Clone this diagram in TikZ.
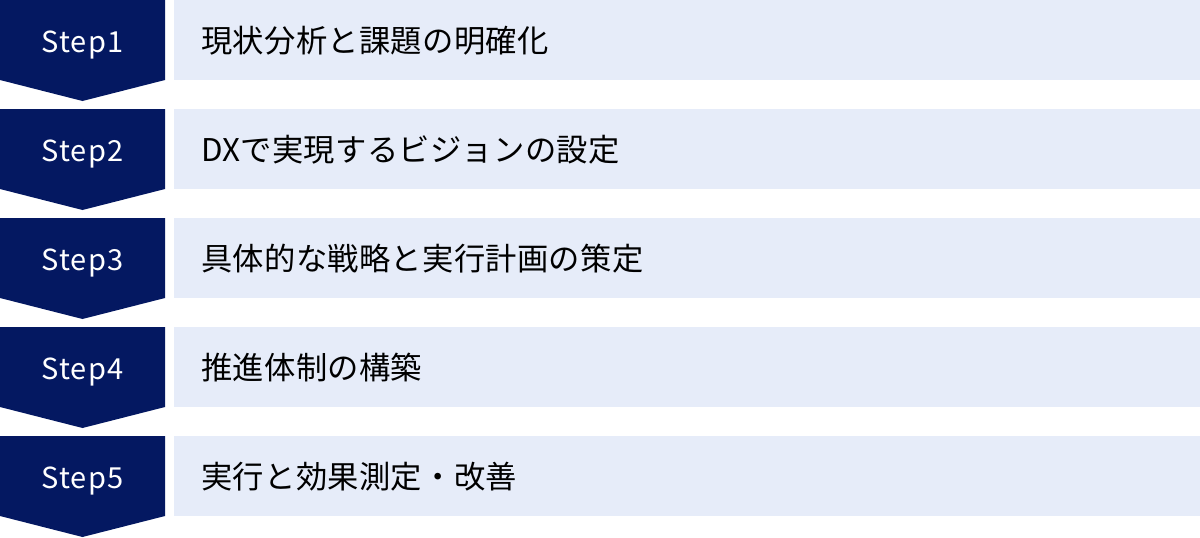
\documentclass[tikz,border=0pt]{standalone}
\usepackage{fontspec}
\setmainfont[LetterSpace=1]{Noto Sans CJK JP}
\newfontfamily\steplabelfont[LetterSpace=4]{Noto Sans CJK JP}
\begin{document}
\begin{tikzpicture}[x=1pt,y=-1pt]
\definecolor{stepnavy}{HTML}{041861}
\definecolor{rowblue}{HTML}{E6ECF9}
\tikzset{
	stepfill/.style={fill=stepnavy, draw=none},
	steplbl/.style={text=white, font=\steplabelfont\fontsize{29}{32}\selectfont, anchor=base, inner sep=0pt},
	rowfill/.style={fill=rowblue, draw=none},
	rowlbl/.style={text=black, font=\fontsize{31.3}{36}\selectfont, anchor=base west, inner sep=0pt}
}
\useasboundingbox (0,0) rectangle (1200,538);

% Step1
\fill[stepfill] (0,0) -- (165,0) -- (165,80) -- (82.5,101) -- (0,80) -- cycle;
\fill[rowfill] (174,0) rectangle (1200,80);
\node[steplbl] (S1) at (82.5,52) {Step1};
\node[rowlbl] (R1) at (201,52.5) {現状分析と課題の明確化};

% Step2
\fill[stepfill] (0,109) -- (165,109) -- (165,189) -- (82.5,210) -- (0,189) -- cycle;
\fill[rowfill] (174,109) rectangle (1200,189);
\node[steplbl] (S2) at (82.5,161) {Step2};
\node[rowlbl] (R2) at (201,161.5) {DXで実現するビジョンの設定};

% Step3
\fill[stepfill] (0,218) -- (165,218) -- (165,298) -- (82.5,319) -- (0,298) -- cycle;
\fill[rowfill] (174,218) rectangle (1200,298);
\node[steplbl] (S3) at (82.5,270) {Step3};
\node[rowlbl] (R3) at (201,270.5) {具体的な戦略と実行計画の策定};

% Step4
\fill[stepfill] (0,327) -- (165,327) -- (165,407) -- (82.5,428) -- (0,407) -- cycle;
\fill[rowfill] (174,327) rectangle (1200,407);
\node[steplbl] (S4) at (82.5,379) {Step4};
\node[rowlbl] (R4) at (201,379.5) {推進体制の構築};

% Step5
\fill[stepfill] (0,436) -- (165,436) -- (165,516) -- (82.5,537) -- (0,516) -- cycle;
\fill[rowfill] (174,436) rectangle (1200,516);
\node[steplbl] (S5) at (82.5,488) {Step5};
\node[rowlbl] (R5) at (201,488.5) {実行と効果測定・改善};
\end{tikzpicture}
\end{document}
